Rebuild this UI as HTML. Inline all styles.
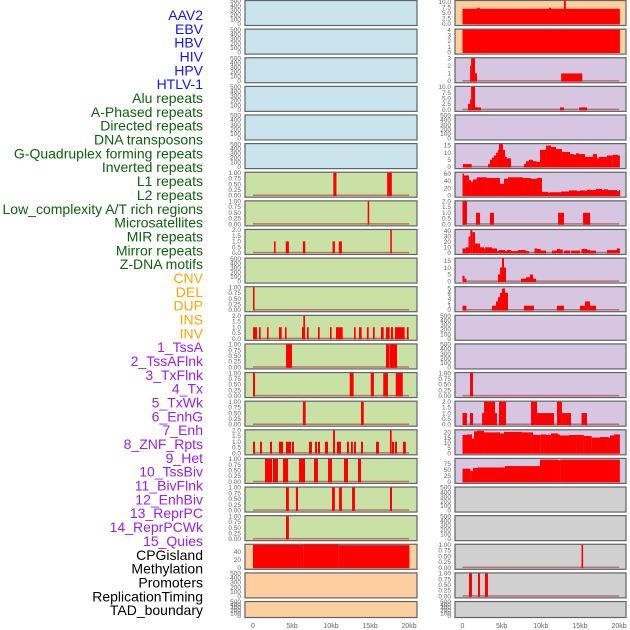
<!DOCTYPE html>
<html><head><meta charset="utf-8">
<style>
html,body{margin:0;padding:0;background:#fff;}
svg{display:block;font-family:"Liberation Sans",sans-serif;}
</style></head>
<body>
<svg id="chart" width="630" height="630" viewBox="0 0 630 630" xmlns="http://www.w3.org/2000/svg"></svg>
<script>
// ---- labels ----
const trackLabels = ["AAV2","EBV","HBV","HIV","HPV","HTLV-1","Alu repeats","A-Phased repeats","Directed repeats","DNA transposons","G-Quadruplex forming repeats","Inverted repeats","L1 repeats","L2 repeats","Low_complexity A/T rich regions","Microsatellites","MIR repeats","Mirror repeats","Z-DNA motifs","CNV","DEL","DUP","INS","INV","1_TssA","2_TssAFlnk","3_TxFlnk","4_Tx","5_TxWk","6_EnhG","7_Enh","8_ZNF_Rpts","9_Het","10_TssBiv","11_BivFlnk","12_EnhBiv","13_ReprPC","14_ReprPCWk","15_Quies","CPGisland","Methylation","Promoters","ReplicationTiming","TAD_boundary"];
const labelGroups = ["virus","virus","virus","virus","virus","virus","rep","rep","rep","rep","rep","rep","rep","rep","rep","rep","rep","rep","rep","sv","sv","sv","sv","sv","chrom","chrom","chrom","chrom","chrom","chrom","chrom","chrom","chrom","chrom","chrom","chrom","chrom","chrom","chrom","other","other","other","other","other"];
const xTickValues = [0,5,10,15,20];
const xTickLabels = ["0","5kb","10kb","15kb","20kb"];

// ---- tick sets ----
const ticksE = [0,100,200,300,400,500];
const ticksQ = [0,0.25,0.5,0.75,1];
const ticksH = [0,0.5,1,1.5,2];

// ---- left column data: [startKb, endKb, value] ----
const L06 = [[10.3,10.7,1],[17.2,17.8,1]];
const L07 = [[14.7,14.9,1]];
const L08 = [[2.7,2.9,1],[4.2,4.6,1],[6.4,6.7,1],[10.2,10.5,1],[11.0,11.4,1],[17.6,17.8,2]];
const L10 = [[0,0.2,1]];
const L11 = [[0,0.51,1],[0.77,0.98,1],[1.8,2.0,1],[3.33,3.68,1],[4.1,4.3,1],[6.28,6.67,1],[6.45,6.67,2],[6.92,7.14,1],[8.33,8.55,1],[9.87,10.08,1],[10.64,11.5,1],[12.95,13.16,1],[13.59,13.93,1],[14.6,14.83,1],[15.38,15.6,1],[16.4,16.75,1],[17.05,17.52,1],[17.69,17.95,1],[18.2,19.44,1],[19.74,19.95,1]];
const L12 = [[4.23,5.0,1],[17.05,17.5,1],[17.56,18.46,1]];
const L13 = [[0,0.26,1],[12.4,12.9,1],[15.1,15.5,1],[16.7,17.3,1],[18.3,19.2,1]];
const L14 = [[6.4,6.75,1],[13.85,14.2,1]];
const L15 = [[0,0.26,1],[0.9,1.15,1],[2.18,2.44,1],[3.33,3.85,1],[4.23,4.87,1],[5.0,5.26,1],[7.18,7.56,1],[7.95,8.2,1],[8.33,8.59,1],[9.23,9.62,1],[10.26,10.51,2],[10.77,11.28,1],[12.05,12.3,1],[12.56,12.8,1],[12.95,13.2,1],[13.85,14.1,1],[15.77,16.15,1],[17.56,17.78,2],[17.82,18.08,1],[18.2,18.46,1],[19.23,19.6,1]];
const L16 = [[1.54,2.44,1],[2.56,3.2,1],[3.85,4.5,1],[5.9,6.67,1],[7.82,8.33,1],[9.62,10.13,1],[11.67,12.18,1],[13.46,13.85,1]];
const L17 = [[4.23,4.6,1],[5.5,5.77,1],[10.13,10.5,1],[11.03,11.4,1],[12.7,13.07,1],[17.56,17.82,1]];
const L18 = [[4.23,4.6,1]];
const L19 = [[0,6.5,57],[6.5,11.0,57.5],[11.0,20.05,56]];

// ---- right column data ----
const R00 = [[0,20.1,6.8],[1.9,2.2,7.3],[11.05,11.3,7.3],[12.95,13.2,12]];
const R01 = [[0,20.1,4]];
const R02 = [[0.97,1.1,2],[1.1,1.6,3],[1.6,1.85,1],[12.6,15.3,1]];
const R03 = [[0.7,0.97,2.5],[0.97,1.1,4.5],[1.1,1.6,10],[1.6,2.36,1],[12.45,12.96,1],[14.9,15.9,1]];
const R05 = [[0.06,1.17,2],[3.26,3.51,2],[3.51,3.77,5],[3.77,4.02,6.5],[4.02,4.28,8],[4.28,4.53,10],[4.53,4.66,12],[4.66,5.17,16],[5.17,5.43,12],[5.43,5.68,7],[5.68,6.19,6],[7.85,8.11,2],[8.11,8.49,4],[8.49,9.0,5],[9.0,9.5,4],[9.5,9.9,3.5],[9.9,10.67,12],[10.67,11.3,15],[11.3,11.94,14],[11.94,12.7,12.5],[12.7,13.73,10.5],[13.73,14.24,9],[14.24,14.5,8.5],[14.5,14.88,9.5],[14.88,15.64,9],[15.64,16.67,7],[16.67,17.18,9],[17.18,17.43,6],[17.43,18.45,7],[18.45,19.2,8],[19.2,19.86,8.5],[19.86,20.1,8]];
const R06 = [[0,0.19,60],[0.19,0.83,55],[0.83,1.09,42],[1.09,1.34,38],[1.34,1.85,44],[1.85,3.13,50],[3.13,4.79,48],[4.79,5.3,32],[5.3,5.81,46],[5.81,7.73,50],[7.73,8.75,48],[8.75,9.52,46],[9.52,10.15,48],[10.15,10.92,10],[10.92,11.18,8],[11.18,12.58,9],[12.58,13.6,11],[13.6,14.62,14],[14.62,15.0,12],[15.0,15.64,14],[15.64,15.9,13],[15.9,16.41,16],[16.41,17.05,15],[17.05,17.82,18],[17.82,18.07,15],[18.07,18.58,17],[18.58,19.73,15],[19.73,19.99,12],[19.99,20.1,15]];
const R07 = [[0,0.57,2],[1.72,2.24,1],[3.51,4.02,1],[12.2,12.96,1],[15.4,16.3,1]];
const R08 = [[0,0.4,8],[0.4,0.77,10],[0.77,1.0,30],[1.0,1.25,42],[1.25,1.6,38],[1.6,2.24,17],[2.24,2.75,10],[2.75,2.9,8],[2.9,3.77,10],[3.77,4.4,8],[4.4,4.66,3],[4.66,5.43,5],[5.43,5.68,3],[5.68,6.19,5],[6.19,7.1,3],[7.1,8.1,5],[8.1,8.5,3],[9.2,9.5,8],[9.5,10.0,7],[10.0,10.67,4],[11.43,12.07,4],[12.07,12.45,7],[12.45,12.8,6],[12.96,13.73,4],[13.86,14.5,4],[14.5,15.0,4],[15.2,15.9,7],[15.9,16.3,5],[16.3,17.05,4],[18.45,19.73,5],[19.73,20.1,8]];
const R09 = [[0,0.26,4],[0.26,0.5,2],[4.53,4.79,5],[4.79,5.04,10],[5.04,5.3,17],[5.3,5.56,10],[7.47,8.11,2],[8.11,8.62,3],[8.62,9.0,5],[9.0,9.4,2]];
const R10 = [[0,0.5,1],[3.77,4.28,1],[4.28,4.53,2],[4.53,4.79,3],[4.79,5.04,4],[5.04,5.43,5],[5.43,5.81,4],[7.85,9.13,1],[12.07,12.96,1],[15.0,15.64,1],[15.64,16.28,2],[16.28,17.05,1]];
const R13 = [[0.96,1.34,1]];
const R14 = [[0,0.57,1],[0.96,1.34,1],[2.5,2.75,1],[2.75,4.15,2],[4.15,4.4,1],[4.66,5.56,2],[8.75,9.52,2],[9.52,11.69,1],[12.07,12.7,2],[12.7,13.86,1],[15.2,15.9,1]];
const R15 = [[0,0.57,17.5],[0.57,1.21,18],[1.21,1.47,14],[1.47,1.85,21],[1.85,2.75,21.5],[2.75,4.79,20],[4.79,5.3,19],[5.3,6.32,20.5],[6.32,7.6,20.5],[7.6,9.0,20],[9.0,10.0,17.5],[10.0,10.66,18],[10.66,11.3,17.5],[11.3,12.2,19],[12.2,12.45,18],[12.45,13.6,17],[13.6,15.5,17.5],[15.5,16.5,16.5],[16.5,17.56,15],[17.56,18.58,15.5],[18.58,18.84,15],[18.84,19.35,17],[19.35,20.1,18]];
const R16 = [[0,1.0,55],[1.0,1.34,45],[1.34,1.98,58],[1.98,5.43,60],[5.43,9.9,66],[9.9,12.2,93],[12.2,12.5,91],[12.5,20.1,93]];
const R19 = [[15.2,15.4,1]];
const R20 = [[0.83,1.21,1],[1.98,2.24,1],[2.87,3.25,1]];

// panel specs: [data, ticks, tickLabels, ymax, bgKey]
const leftPanels = [
 [null,ticksE,null,500,"blue"],[null,ticksE,null,500,"blue"],[null,ticksE,null,500,"blue"],
 [null,ticksE,null,500,"blue"],[null,ticksE,null,500,"blue"],[null,ticksE,null,500,"blue"],
 [L06,ticksQ,null,1,"green"],[L07,ticksQ,null,1,"green"],[L08,ticksH,null,2,"green"],
 [null,ticksE,null,500,"green"],[L10,ticksQ,null,1,"green"],[L11,ticksH,null,2,"green"],
 [L12,ticksQ,null,1,"green"],[L13,ticksQ,null,1,"green"],[L14,ticksQ,null,1,"green"],
 [L15,ticksH,null,2,"green"],[L16,ticksQ,null,1,"green"],[L17,ticksQ,null,1,"green"],
 [L18,ticksQ,null,1,"green"],[L19,[0,20,40],null,57,"orange"],[null,ticksE,null,500,"orange"],
 [null,ticksE,null,500,"orange"]
];
const rightPanels = [
 [R00,[0,2.5,5,7.5,10],["0.0","2.5","5.0","7.5","10.0"],10.3,"orange"],
 [R01,[0,1,2,3,4],null,4,"orange"],
 [R02,[0,1,2,3],null,3,"purple"],
 [R03,[0,2.5,5,7.5,10],["0.0","2.5","5.0","7.5","10.0"],10,"purple"],
 [null,ticksE,null,500,"purple"],
 [R05,[0,5,10,15],null,16,"purple"],
 [R06,[0,20,40,60],null,62.5,"purple"],
 [R07,ticksH,null,2,"purple"],
 [R08,[0,10,20,30,40],null,42,"purple"],
 [R09,[0,5,10,15],null,16.5,"purple"],
 [R10,[0,1,2,3,4,5],null,5.3,"purple"],
 [null,ticksE,null,500,"purple"],
 [null,ticksE,null,500,"purple"],
 [R13,ticksQ,null,1,"purple"],
 [R14,ticksH,null,2,"purple"],
 [R15,[0,5,10,15,20],null,22,"purple"],
 [R16,[0,25,50,75],null,96,"purple"],
 [null,ticksE,null,500,"grey"],
 [null,ticksE,null,500,"grey"],
 [R19,ticksQ,null,1,"grey"],
 [R20,ticksQ,null,1,"grey"],
 [null,ticksE,null,500,"grey"]
];

const bgColors = {blue:"#c9e4ec",green:"#c9e1a5",orange:"#fecf9e",purple:"#d6c6e2",grey:"#d0d0d0"};
const labelColors = {virus:"#1414ff",rep:"#0a640a",sv:"#ffa500",chrom:"#9a20f0",other:"#000000"};

const NS = "http://www.w3.org/2000/svg";
const svg = document.getElementById("chart");
function mk(tag, attrs, parent){
  const e = document.createElementNS(NS, tag);
  for (const k in attrs) e.setAttribute(k, attrs[k]);
  (parent||svg).appendChild(e);
  return e;
}
function rowTop(i){ return i*28.62; }
function rowH(i){ return i===21 ? 16 : 25; }
const cols = [
  {x0:245, w:172, sx:(kb)=>253+kb*7.8, tickX:241},
  {x0:455, w:171, sx:(kb)=>462.5+kb*7.83, tickX:451}
];
function fmtTick(v, ticks){
  if (ticks===ticksQ) return v.toFixed(2);
  if (ticks===ticksH) return v.toFixed(1);
  return String(v);
}

// labels
trackLabels.forEach((t,i)=>{
  const el = mk("text",{x:203,y:15+i*13.84+5,"text-anchor":"end","font-size":"14",fill:labelColors[labelGroups[i]]});
  el.textContent = t;
  
  
});

function drawPanel(spec, row, col){
  const [data, ticks, tlabels, ymax, bg] = spec;
  const c = cols[col];
  const top = rowTop(row), h = rowH(row);
  const g = mk("g",{});
  
  
  const base = top + h - 1.2;
  const span = h - 2.2;
  const sy = (v)=> base - Math.min(v,ymax*1.02)/ymax*span;
  const r = mk("rect",{x:c.x0,y:top+0.5,width:c.w,height:h,fill:bgColors[bg],stroke:"#5f6468","stroke-width":"1.2"},g);
  
  
  if (data){
    const bl = mk("rect",{x:c.sx(0),y:base-1,width:c.sx(20)-c.sx(0),height:1.5,fill:"#b04848",opacity:"0.7"},g);
    
    
    data.forEach(d=>{
      const x1 = c.sx(d[0]), x2 = c.sx(d[1]);
      const y = Math.max(sy(d[2]), top+0.5);
      const b = mk("rect",{x:x1,y:y,width:Math.max(x2-x1,1.2),height:base+0.6-y,fill:"#ff0000"},g);
      
      
    });
  }
  ticks.forEach((v,k)=>{
    const t = mk("text",{x:c.tickX,y:sy(v)+2.2,"text-anchor":"end","font-size":"6.5",fill:"#666"},g);
    t.textContent = tlabels ? tlabels[k] : fmtTick(v,ticks);
    
    
  });
}
leftPanels.forEach((p,i)=>drawPanel(p,i,0));
rightPanels.forEach((p,i)=>drawPanel(p,i,1));

// x-axis ticks
cols.forEach(c=>{
  xTickValues.forEach((v,k)=>{
    const t = mk("text",{x:c.sx(v),y:628,"text-anchor":"middle","font-size":"7",fill:"#666"});
    t.textContent = xTickLabels[k];
    
    
  });
});
</script>
</body></html>
